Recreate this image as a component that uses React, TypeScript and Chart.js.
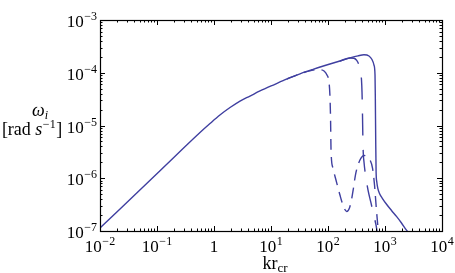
import React, { useEffect, useRef } from "react";
import { Chart, registerables } from "chart.js";

Chart.register(...registerables);

// ---- data ----
const solidK = [0.01, 0.113, 0.568, 0.851, 1.27, 1.91, 2.86, 4.28, 6.41, 11.7, 19.1, 32.3, 54.6, 88.5, 162, 243, 336, 428, 524, 591, 641, 668, 676, 687, 698, 718, 748, 801, 904, 1072, 1300, 1603, 1946, 2382, 2483];
const solidW = [1.14e-7, 1.39e-6, 7.36e-6, 1.09e-5, 1.58e-5, 2.19e-5, 2.91e-5, 3.62e-5, 4.51e-5, 6.04e-5, 7.62e-5, 9.55e-5, 1.16e-4, 1.37e-4, 1.67e-4, 1.91e-4, 2.09e-4, 2.19e-4, 2.08e-4, 1.78e-4, 1.4e-4, 9.06e-5, 3.78e-5, 5.31e-6, 1.31e-6, 8.49e-7, 6.4e-7, 5.14e-7, 4.13e-7, 3.18e-7, 2.45e-7, 1.87e-7, 1.42e-7, 1.04e-7, 1e-7];

const shortK = [19.1, 32.3, 50.3, 61.5, 72.4, 85.1, 96.0, 104, 108, 111, 113, 122, 138, 162, 183, 213, 238, 258, 280, 303, 336, 379, 428, 483, 546, 604, 655, 703, 738, 763];
const shortW = [7.62e-5, 9.55e-5, 1.1e-4, 1.14e-4, 1.14e-4, 1.08e-4, 9.06e-5, 6.68e-5, 3.78e-5, 1.27e-5, 3.44e-6, 1.56e-6, 9.27e-7, 4.81e-7, 3.11e-7, 2.34e-7, 2.73e-7, 3.87e-7, 6.53e-7, 1.15e-6, 1.78e-6, 2.42e-6, 2.7e-6, 2.58e-6, 2.22e-6, 1.56e-6, 7.45e-7, 2.73e-7, 1.48e-7, 1e-7];

const longK = [162, 243, 286, 319, 350, 372, 387, 395, 403, 408, 415, 428, 455, 504, 568, 641, 695, 724];
const longW = [1.67e-4, 1.91e-4, 1.88e-4, 1.71e-4, 1.4e-4, 1.08e-4, 7.3e-5, 4.31e-5, 1.58e-5, 6.61e-6, 3.15e-6, 2.03e-6, 1.15e-6, 5.98e-7, 3.4e-7, 1.92e-7, 1.3e-7, 1e-7];

const xTickValues = [1e-2, 1e-1, 1, 1e1, 1e2, 1e3, 1e4];
const xTickBases = ["10", "10", "1", "10", "10", "10", "10"];
const xTickExps = ["\u22122", "\u22121", "", "1", "2", "3", "4"];

const yTickValues = [1e-7, 1e-6, 1e-5, 1e-4, 1e-3];
const yTickBases = ["10", "10", "10", "10", "10"];
const yTickExps = ["\u22127", "\u22126", "\u22125", "\u22124", "\u22123"];

const LINE = "#3f3fa0";
const FONT = "'Liberation Serif', 'DejaVu Serif', serif";
const BASE_PX = 17;
const EXP_PX = 12;

const toPts = (k: number[], w: number[]) => k.map((v, i) => ({ x: v, y: w[i] }));

function drawPow(ctx: CanvasRenderingContext2D, base: string, exp: string, x: number, y: number, align: "center" | "right") {
  ctx.font = `${BASE_PX}px ${FONT}`;
  const bw = ctx.measureText(base).width;
  ctx.font = `${EXP_PX}px ${FONT}`;
  const ew = exp ? ctx.measureText(exp).width + 0.5 : 0;
  const total = bw + ew;
  const start = align === "center" ? x - total / 2 : x - total;
  ctx.textAlign = "left";
  ctx.textBaseline = "alphabetic";
  ctx.font = `${BASE_PX}px ${FONT}`;
  ctx.fillText(base, start, y);
  if (exp) {
    ctx.font = `${EXP_PX}px ${FONT}`;
    ctx.fillText(exp, start + bw + 0.5, y - 7);
  }
}

const framePlugin = {
  id: "frame",
  afterDraw(chart: any) {
    const { ctx, chartArea } = chart;
    const { left, right, top, bottom } = chartArea;
    const xs = chart.scales.x;
    const ys = chart.scales.y;
    ctx.save();
    ctx.strokeStyle = "#000";
    ctx.lineWidth = 1.2;
    ctx.strokeRect(Math.round(left) + 0.5, Math.round(top) + 0.5, Math.round(right - left), Math.round(bottom - top));
    ctx.lineWidth = 1;
    ctx.beginPath();
    for (let d = -2; d <= 4; d++) {
      for (let m = 1; m <= 9; m++) {
        const v = m * Math.pow(10, d);
        if (v > 1e4 * 1.0001) continue;
        const px = Math.round(xs.getPixelForValue(v)) + 0.5;
        const len = m === 1 ? 5 : 2.5;
        ctx.moveTo(px, bottom);
        ctx.lineTo(px, bottom - len);
        ctx.moveTo(px, top);
        ctx.lineTo(px, top + len);
      }
    }
    for (let d = -7; d <= -3; d++) {
      for (let m = 1; m <= 9; m++) {
        const v = m * Math.pow(10, d);
        if (v > 1e-3 * 1.0001) continue;
        const py = Math.round(ys.getPixelForValue(v)) + 0.5;
        const len = m === 1 ? 5 : 2.5;
        ctx.moveTo(left, py);
        ctx.lineTo(left + len, py);
        ctx.moveTo(right, py);
        ctx.lineTo(right - len, py);
      }
    }
    ctx.stroke();

    ctx.fillStyle = "#000";
    xTickValues.forEach((v, i) => {
      const px = xs.getPixelForValue(v);
      drawPow(ctx, xTickBases[i], xTickExps[i], px, bottom + 21, "center");
    });
    yTickValues.forEach((v, i) => {
      const py = ys.getPixelForValue(v);
      drawPow(ctx, yTickBases[i], yTickExps[i], left - 3, py + 7, "right");
    });

    // x title: kr_cr
    ctx.textAlign = "left";
    ctx.font = `18px ${FONT}`;
    const kw = ctx.measureText("kr").width;
    ctx.font = `13px ${FONT}`;
    const cw = ctx.measureText("cr").width;
    const cx = 275;
    const sx = cx - (kw + cw) / 2;
    ctx.font = `18px ${FONT}`;
    ctx.fillText("kr", sx, 269);
    ctx.font = `13px ${FONT}`;
    ctx.fillText("cr", sx + kw, 272);

    // y title: ω_i / [rad s^-1]
    ctx.font = `italic 18px ${FONT}`;
    const ow = ctx.measureText("\u03c9").width;
    ctx.font = `italic 12px ${FONT}`;
    const iw = ctx.measureText("i").width;
    const ox = 40 - (ow + iw) / 2;
    ctx.font = `italic 18px ${FONT}`;
    ctx.fillText("\u03c9", ox, 116);
    ctx.font = `italic 12px ${FONT}`;
    ctx.fillText("i", ox + ow, 119);

    ctx.font = `18px ${FONT}`;
    const p1 = "[rad ";
    const w1 = ctx.measureText(p1).width;
    ctx.font = `italic 18px ${FONT}`;
    const w2 = ctx.measureText("s").width;
    ctx.font = `12px ${FONT}`;
    const w3 = ctx.measureText("\u22121").width;
    ctx.font = `18px ${FONT}`;
    const w4 = ctx.measureText("]").width;
    const tot = w1 + w2 + w3 + w4 + 1;
    let tx = 32 - tot / 2;
    ctx.font = `18px ${FONT}`;
    ctx.fillText(p1, tx, 135);
    tx += w1;
    ctx.font = `italic 18px ${FONT}`;
    ctx.fillText("s", tx, 135);
    tx += w2 + 0.5;
    ctx.font = `12px ${FONT}`;
    ctx.fillText("\u22121", tx, 128);
    tx += w3 + 0.5;
    ctx.font = `18px ${FONT}`;
    ctx.fillText("]", tx, 135);
    ctx.restore();
  },
};

export default function App() {
  const ref = useRef<HTMLCanvasElement | null>(null);
  useEffect(() => {
    if (!ref.current) return;
    const ds = (data: any, dash: number[]) => ({
      data,
      showLine: true,
      borderColor: LINE,
      borderWidth: 1.4,
      borderDash: dash,
      pointRadius: 0,
      fill: false,
      cubicInterpolationMode: "monotone" as const,
    });
    const chart = new Chart(ref.current, {
      type: "scatter",
      data: {
        datasets: [
          ds(toPts(solidK, solidW), []),
          ds(toPts(shortK, shortW), [11, 7]),
          ds(toPts(longK, longW), [22, 14]),
        ],
      },
      options: {
        animation: false,
        responsive: true,
        maintainAspectRatio: false,
        layout: { padding: { left: 100, right: 13, top: 20, bottom: 42 } },
        plugins: { legend: { display: false }, tooltip: { enabled: false } },
        scales: {
          x: { type: "logarithmic", min: 1e-2, max: 1e4, display: false },
          y: { type: "logarithmic", min: 1e-7, max: 1e-3, display: false },
        },
      },
      plugins: [framePlugin],
    });
    return () => chart.destroy();
  }, []);
  return (
    <div style={{ position: "absolute", left: 0, top: 0, width: 455, height: 273, background: "#fff" }}>
      <canvas ref={ref} />
    </div>
  );
}
